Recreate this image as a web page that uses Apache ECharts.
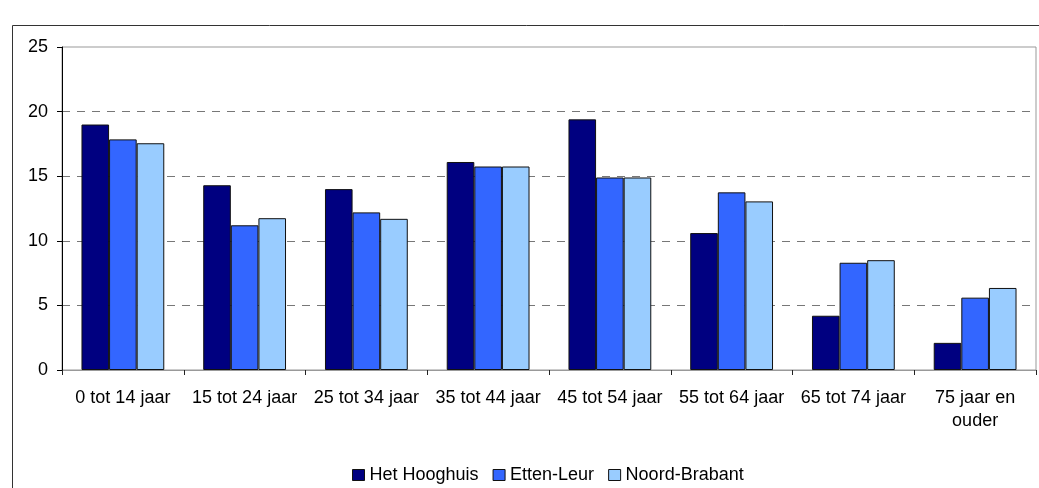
<!DOCTYPE html>
<html>
<head>
<meta charset="utf-8">
<script src="https://cdn.jsdelivr.net/npm/echarts@6/dist/echarts.min.js"></script>
<style>
  html, body { margin: 0; padding: 0; background: #fff; }
  #main { width: 1039px; height: 488px; }
</style>
</head>
<body>
<div id="main"></div>
<script>
// leeftijdsgroepen
const categories = ['0 tot 14 jaar', '15 tot 24 jaar', '25 tot 34 jaar', '35 tot 44 jaar',
  '45 tot 54 jaar', '55 tot 64 jaar', '65 tot 74 jaar', '75 jaar en\nouder']
const hooghuis = [19.0, 14.3, 14.0, 16.1, 19.4, 10.6, 4.2, 2.1]
const ettenLeur = [17.85, 11.2, 12.2, 15.75, 14.9, 13.75, 8.3, 5.6]
const noordBrabant = [17.55, 11.75, 11.7, 15.75, 14.9, 13.05, 8.5, 6.35]
const yTicks = [0, 5, 10, 15, 20, 25]

const chart = echarts.init(document.getElementById('main'))

function bar (name, data, color) {
  return {
    name: name,
    type: 'bar',
    data: data,
    barGap: '0%',
    barCategoryGap: '32%',
    itemStyle: { color: color, borderColor: '#111', borderWidth: 1 }
  }
}

chart.setOption({
  animation: false,
  textStyle: { fontFamily: 'Liberation Sans, Arial, sans-serif' },
  graphic: [{
    type: 'rect',
    silent: true,
    z: -1,
    shape: { x: 12.5, y: 25.5, width: 1100, height: 600 },
    style: { fill: null, stroke: '#333', lineWidth: 1 }
  }],
  grid: {
    left: 62, right: 3, top: 47, bottom: 118,
    show: true, borderColor: '#999', borderWidth: 1
  },
  legend: {
    top: 466,
    left: 352,
    padding: 0,
    icon: 'rect',
    itemWidth: 12,
    itemHeight: 11,
    itemGap: 14,
    textStyle: { fontSize: 18, color: '#000' },
    itemStyle: { borderColor: '#111', borderWidth: 1 },
    data: ['Het Hooghuis', 'Etten-Leur', 'Noord-Brabant']
  },
  xAxis: {
    type: 'category',
    data: categories,
    axisLine: { lineStyle: { color: '#999', width: 1 } },
    axisTick: { show: true, length: 5, lineStyle: { color: '#222' } },
    axisLabel: { fontSize: 18, color: '#000', margin: 17, lineHeight: 23, interval: 0 }
  },
  yAxis: {
    type: 'value',
    min: yTicks[0],
    max: yTicks[yTicks.length - 1],
    interval: 5,
    axisLine: { show: true, lineStyle: { color: '#000' } },
    axisTick: { show: true, length: 5, lineStyle: { color: '#000' } },
    axisLabel: { fontSize: 18, color: '#000', margin: 14 },
    splitLine: { showMaxLine: false, lineStyle: { color: '#777', type: [8, 7] } }
  },
  series: [
    bar('Het Hooghuis', hooghuis, '#000080'),
    bar('Etten-Leur', ettenLeur, '#3366FF'),
    bar('Noord-Brabant', noordBrabant, '#99CCFF')
  ]
})
</script>
</body>
</html>
